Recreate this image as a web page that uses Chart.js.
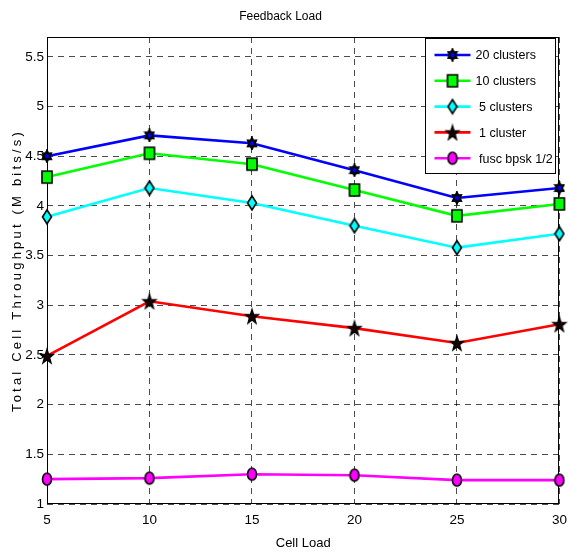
<!DOCTYPE html>
<html>
<head>
<meta charset="utf-8">
<script src="https://cdn.jsdelivr.net/npm/chart.js@4/dist/chart.umd.min.js"></script>
<style>
  html, body { margin: 0; padding: 0; background: #fff; }
  canvas { display: block; }
</style>
</head>
<body>
<canvas id="c" width="568" height="552"></canvas>
<script>
// Total cell throughput (Mbit/s) against cell load for each feedback scheme
const cellLoad   = [5, 10, 15, 20, 25, 30];
const clusters20 = [4.50, 4.71, 4.63, 4.36, 4.08, 4.18];
const clusters10 = [4.29, 4.53, 4.42, 4.16, 3.90, 4.02];
const clusters5  = [3.89, 4.18, 4.03, 3.80, 3.58, 3.72];
const cluster1   = [2.49, 3.04, 2.89, 2.77, 2.62, 2.81];
const fuscBpsk   = [1.25, 1.26, 1.30, 1.29, 1.24, 1.24];
const xTicks = [5, 10, 15, 20, 25, 30];
const yTicks = [1, 1.5, 2, 2.5, 3, 3.5, 4, 4.5, 5, 5.5];
const seriesNames = ['20 clusters', '10 clusters', ' 5 clusters', ' 1 cluster', ' fusc bpsk 1/2'];
const chartTitle = 'Feedback Load';
const xTitle = 'Cell Load';
const yTitle = 'Total Cell Throughput (M bits/s)';

const FONT = '"Liberation Sans", Arial, sans-serif';

// ---- marker images -------------------------------------------------------
function makeMarker(w, h, fill, lw, draw) {
  const c = document.createElement('canvas');
  c.width = w; c.height = h;
  const g = c.getContext('2d');
  g.fillStyle = fill;
  g.strokeStyle = '#000';
  g.lineWidth = lw;
  g.lineJoin = 'miter';
  draw(g, w / 2, h / 2);
  return c;
}
function starPath(g, cx, cy, n, rOut, rIn, sx) {
  g.beginPath();
  for (let i = 0; i < 2 * n; i++) {
    const r = i % 2 === 0 ? rOut : rIn;
    const a = -Math.PI / 2 + i * Math.PI / n;
    const x = cx + Math.cos(a) * r * sx;
    const y = cy + Math.sin(a) * r;
    if (i === 0) g.moveTo(x, y); else g.lineTo(x, y);
  }
  g.closePath();
}
const mkHex = makeMarker(12, 14, '#0000ff', 2, (g, cx, cy) => {
  starPath(g, cx, cy, 6, 5.2, 2.9, 0.85); g.stroke(); g.fill();
  g.fillStyle = '#000'; starPath(g, cx, cy, 6, 5.2, 2.9, 0.85); g.stroke();
  g.fillStyle = '#0000ff'; g.fillRect(cx - 1.5, cy - 1.5, 3, 3);
});
const mkSquare = makeMarker(14, 16, '#00ff00', 1.6, (g, cx, cy) => {
  g.beginPath(); g.rect(cx - 5, cy - 6, 10, 12); g.fill(); g.stroke();
});
const mkDiamond = makeMarker(12, 18, '#00ffff', 1.6, (g, cx, cy) => {
  g.beginPath();
  g.moveTo(cx, cy - 7); g.lineTo(cx + 4.5, cy); g.lineTo(cx, cy + 7); g.lineTo(cx - 4.5, cy);
  g.closePath(); g.fill(); g.stroke();
});
const mkPenta = makeMarker(18, 18, '#1a0000', 1.4, (g, cx, cy) => {
  starPath(g, cx, cy + 0.8, 5, 7.5, 3.0, 0.9); g.fill(); g.stroke();
});
const mkCircle = makeMarker(12, 16, '#ff00ff', 1.6, (g, cx, cy) => {
  g.beginPath(); g.ellipse(cx, cy, 4.5, 6, 0, 0, Math.PI * 2); g.fill(); g.stroke();
});

const seriesValues = [clusters20, clusters10, clusters5, cluster1, fuscBpsk];
const seriesColors = ['#0000ff', '#00ff00', '#00ffff', '#ff0000', '#ff00ff'];
const seriesMarkers = [mkHex, mkSquare, mkDiamond, mkPenta, mkCircle];

const datasets = seriesValues.map((vals, i) => ({
  label: seriesNames[i].trim(),
  data: cellLoad.map((x, j) => ({ x: x, y: vals[j] })),
  borderColor: seriesColors[i],
  backgroundColor: seriesColors[i],
  borderWidth: 2.6,
  pointStyle: seriesMarkers[i],
  pointRadius: 6,
  tension: 0,
  clip: false,
  order: seriesValues.length - i
}));

// ---- frame, axis titles and legend box ------------------------------------
const decorations = {
  id: 'decorations',
  beforeDatasetsDraw(chart) {
    const { ctx, chartArea: a } = chart;
    ctx.save();
    ctx.setLineDash([]);
    ctx.strokeStyle = '#000';
    ctx.lineWidth = 1;
    ctx.strokeRect(Math.round(a.left) + 0.5, Math.round(a.top) + 0.5,
                   Math.round(a.right - a.left) - 1, Math.round(a.bottom - a.top) - 1);
    ctx.restore();
  },
  afterDraw(chart) {
    const { ctx, chartArea: a } = chart;
    ctx.save();
    ctx.fillStyle = '#000';
    ctx.textAlign = 'center';
    ctx.textBaseline = 'middle';
    ctx.font = '13px ' + FONT;
    ctx.fillText(xTitle, (a.left + a.right) / 2, 543);

    ctx.save();
    ctx.translate(17, (a.top + a.bottom) / 2);
    ctx.rotate(-Math.PI / 2);
    ctx.font = '13px ' + FONT;
    ctx.letterSpacing = '3.2px';
    ctx.fillText(yTitle, 0, 0);
    ctx.restore();

    // legend
    const bx = Math.round(a.right) - 133.5, by = Math.round(a.top) + 1.5, bw = 130, bh = 135;
    ctx.fillStyle = '#fff';
    ctx.fillRect(bx, by, bw, bh);
    ctx.strokeStyle = '#000';
    ctx.lineWidth = 1;
    ctx.strokeRect(bx, by, bw, bh);
    ctx.textAlign = 'left';
    ctx.font = '12.5px ' + FONT;
    for (let i = 0; i < seriesNames.length; i++) {
      const y = by + 16.5 + i * 25.8;
      ctx.strokeStyle = seriesColors[i];
      ctx.lineWidth = 2.6;
      ctx.beginPath();
      ctx.moveTo(bx + 9, y); ctx.lineTo(bx + 45, y);
      ctx.stroke();
      const m = seriesMarkers[i];
      ctx.drawImage(m, bx + 27 - m.width / 2, y - m.height / 2);
      ctx.fillStyle = '#000';
      ctx.fillText(seriesNames[i], bx + 50, y + 1);
    }
    ctx.restore();
  }
};

const gridColor = 'rgba(0,0,0,0.7)';

new Chart(document.getElementById('c'), {
  type: 'line',
  data: { datasets: datasets },
  plugins: [decorations],
  options: {
    responsive: false,
    animation: false,
    devicePixelRatio: 1,
    layout: { padding: { left: 0, right: 7, top: 0, bottom: 0 } },
    plugins: {
      legend: { display: false },
      tooltip: { enabled: false },
      title: {
        display: true,
        text: chartTitle,
        color: '#000',
        font: { family: FONT, size: 12, weight: 'normal' },
        padding: { top: 9, bottom: 13.6 }
      }
    },
    scales: {
      x: {
        type: 'linear',
        min: 5,
        max: 30,
        afterFit: (s) => { s.height = 48; s.paddingLeft = 0; s.paddingRight = 0; },
        afterBuildTicks: (s) => { s.ticks = xTicks.map(v => ({ value: v })); },
        border: { display: false, dash: [6, 5] },
        grid: { color: gridColor, lineWidth: 1, drawTicks: false },
        ticks: { color: '#000', padding: 8, maxRotation: 0, font: { family: FONT, size: 13.5 } }
      },
      y: {
        type: 'linear',
        min: 1,
        max: 5.7,
        afterFit: (s) => { s.width = 47; s.paddingTop = 0; s.paddingBottom = 0; },
        afterBuildTicks: (s) => { s.ticks = yTicks.map(v => ({ value: v })); },
        border: { display: false, dash: [6, 5] },
        grid: { color: gridColor, lineWidth: 1, drawTicks: false },
        ticks: { color: '#000', padding: 3, font: { family: FONT, size: 13.5 },
                 callback: (v) => String(v) }
      }
    }
  }
});
</script>
</body>
</html>
